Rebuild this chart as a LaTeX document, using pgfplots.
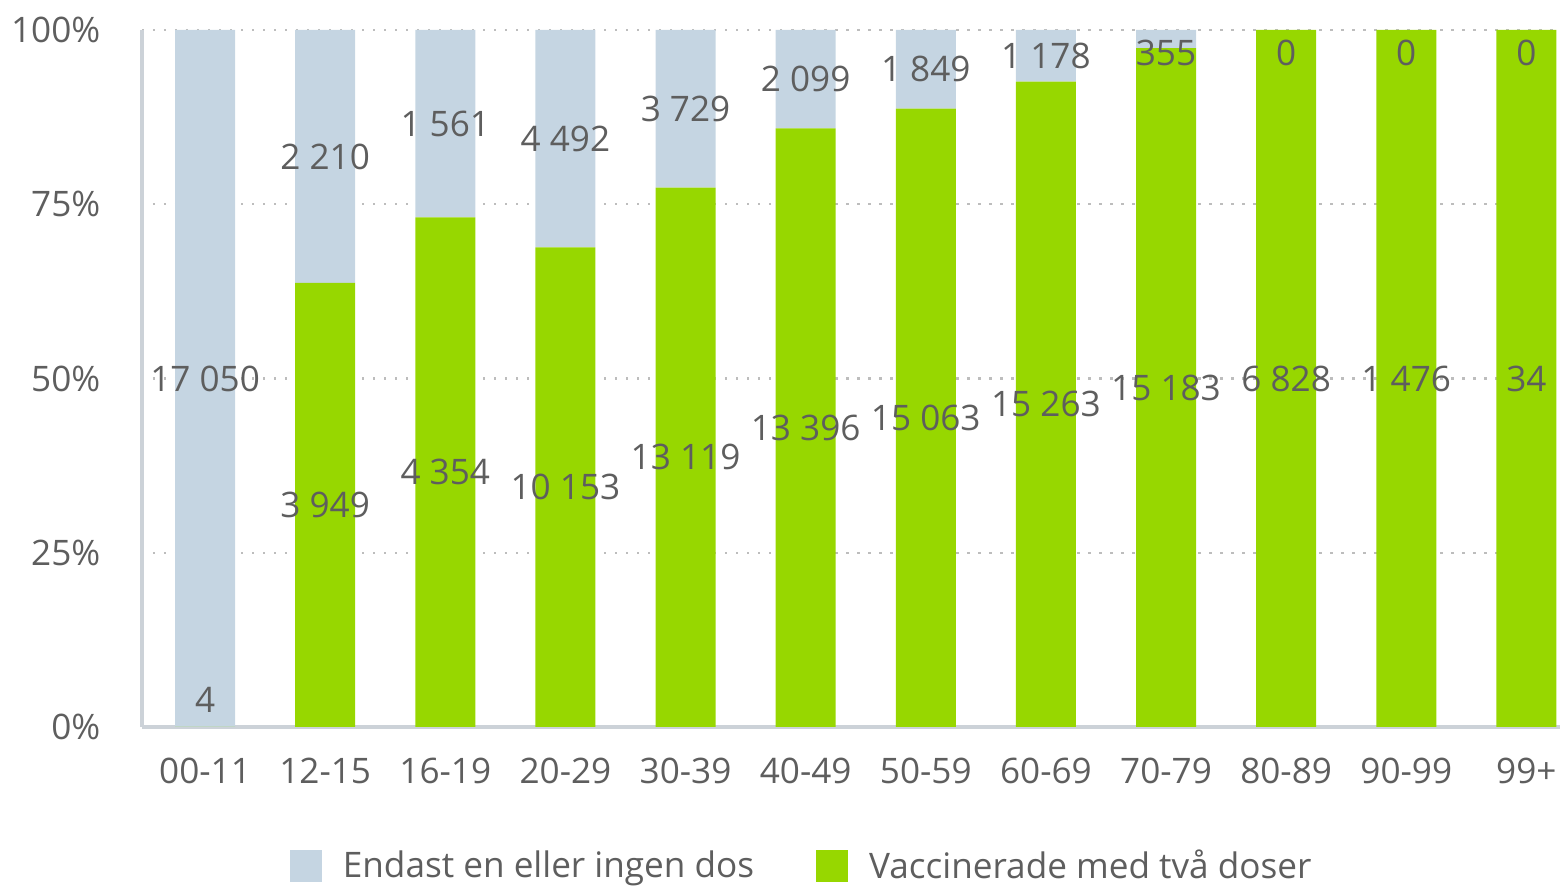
\documentclass[border=0pt]{standalone}
\usepackage{pgfplots}
\pgfplotsset{compat=1.18}
\usepackage{fontspec}
\setmainfont{Open Sans}
\definecolor{cblue}{HTML}{C5D5E2}
\definecolor{cgreen}{HTML}{97D700}
\definecolor{ctext}{HTML}{5E5E5E}
\definecolor{cgrid}{HTML}{BDBDBD}
\definecolor{caxis}{HTML}{CCD2D8}
\pgfplotsset{base/.style={
  scale only axis, width=14.18cm, height=6.97cm,
  xmin=-0.525, xmax=11.28, ymin=0, ymax=100,
}}
\begin{document}
\begin{tikzpicture}
\useasboundingbox (-1.42,-1.60) rectangle (14.22,7.27);
\begin{axis}[base,
  ybar stacked, bar width=0.6cm,
  axis x line*=bottom, axis y line*=left,
  axis line style={-, draw=caxis, line width=1pt},
  ytick={0,25,50,75,100},
  yticklabel={\pgfmathprintnumber{\tick}\%},
  /pgf/number format/assume math mode=true,
  xtick={0,...,11},
  xticklabels={00-11,12-15,16-19,20-29,30-39,40-49,50-59,60-69,70-79,80-89,90-99,99+},
  major tick length=0pt,
  ymajorgrids, grid style={cgrid, line width=0.7pt, dash pattern=on 0.7pt off 2.43pt},
  tick label style={font=\fontsize{10}{12}\selectfont, text=ctext, inner sep=0pt},
  yticklabel style={anchor=east, xshift=-0.41cm},
  xticklabel style={anchor=center, yshift=-0.44cm},
  legend style={at={(0.467,-0.2)}, anchor=center, draw=none, fill=none,
    legend columns=2, font=\fontsize{10}{12}\selectfont, text=ctext,
    /tikz/every odd column/.append style={column sep=0.14cm},
    /tikz/every even column/.append style={column sep=0.55cm}},
  reverse legend,
]
\addplot[fill=cgreen, draw=none,
  legend image code/.code={\fill[cgreen] (0cm,-0.16cm) rectangle (0.32cm,0.16cm);}]
  coordinates {(0,0.0235) (1,63.7) (2,73.1) (3,68.8) (4,77.4) (5,85.9)
  (6,88.7) (7,92.6) (8,97.4) (9,100) (10,100) (11,100)};
\addlegendentry{Vaccinerade med två doser}
\addplot[fill=cblue, draw=none,
  legend image code/.code={\fill[cblue] (0cm,-0.16cm) rectangle (0.32cm,0.16cm);}]
  coordinates {(0,99.9765) (1,36.3) (2,26.9) (3,31.2) (4,22.6) (5,14.1)
  (6,11.3) (7,7.4) (8,2.6) (9,0) (10,0) (11,0)};
\addlegendentry{Endast en eller ingen dos}
\end{axis}
\begin{axis}[base, hide axis, clip=false]
\addplot[draw=none, mark=none, nodes near coords, point meta=explicit symbolic,
  every node near coord/.append style={anchor=center, inner sep=0pt,
    font=\fontsize{10}{12}\selectfont, text=ctext}]
  coordinates {
  (0,50) [17 050] (1,81.85) [2 210] (2,86.55) [1 561] (3,84.4) [4 492]
  (4,88.7) [3 729] (5,92.95) [2 099] (6,94.35) [1 849] (7,96.3) [1 178]
  (8,96.7) [355] (9,96.7) [0] (10,96.7) [0] (11,96.7) [0]};
\addplot[draw=none, mark=none, nodes near coords, point meta=explicit symbolic,
  every node near coord/.append style={anchor=center, inner sep=0pt,
    font=\fontsize{10}{12}\selectfont, text=ctext}]
  coordinates {
  (0,3.9) [4] (1,31.85) [3 949] (2,36.55) [4 354] (3,34.4) [10 153]
  (4,38.7) [13 119] (5,42.95) [13 396] (6,44.35) [15 063] (7,46.3) [15 263]
  (8,48.7) [15 183] (9,50) [6 828] (10,50) [1 476] (11,50) [34]};
\end{axis}
\end{tikzpicture}
\end{document}
